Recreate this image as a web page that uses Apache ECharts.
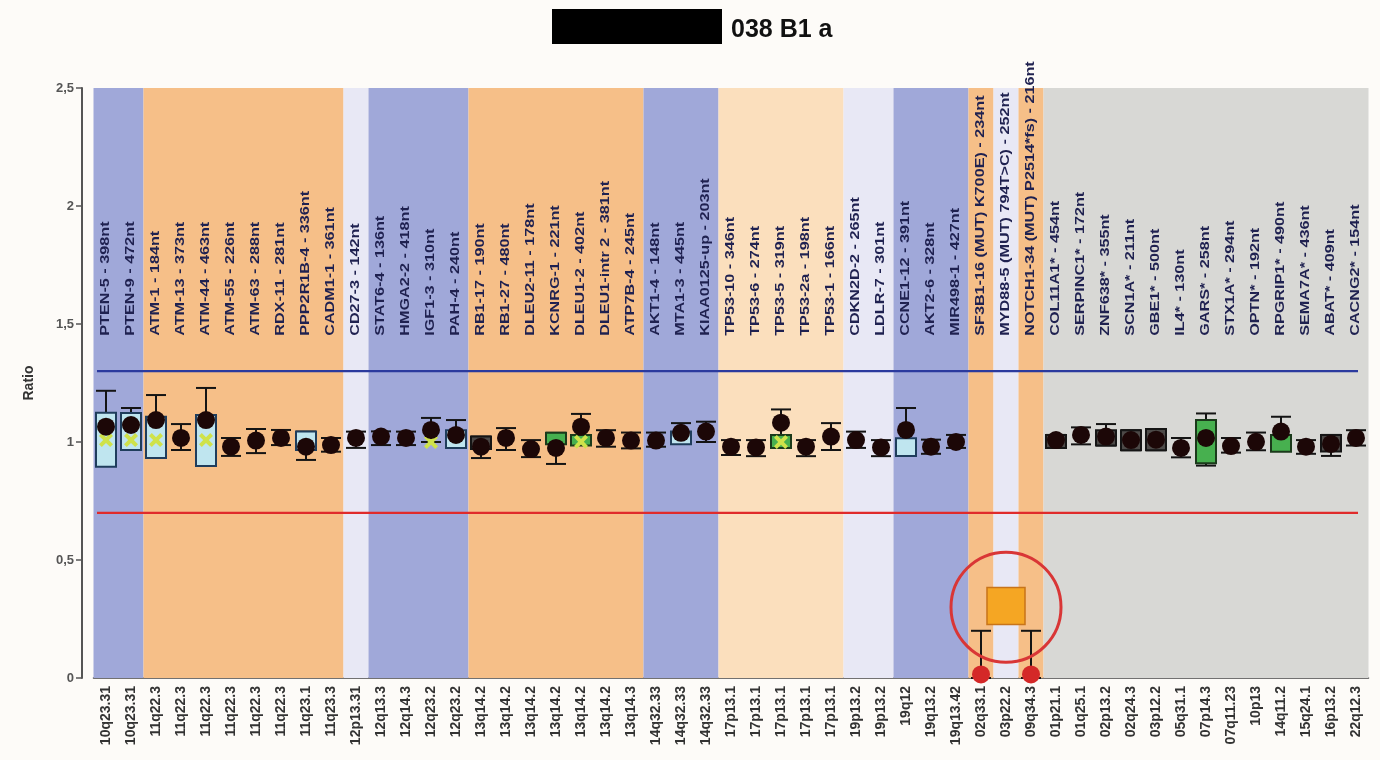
<!DOCTYPE html>
<html><head><meta charset="utf-8">
<script src="https://cdn.jsdelivr.net/npm/echarts@6/dist/echarts.min.js"></script>
<style>html,body{margin:0;padding:0;background:#fdfbf8}#c{width:1380px;height:760px}</style>
</head><body><div id="c"></div>
<script>
// ---- categories (chromosomal loci) ----
const loci = ['10q23.31','10q23.31','11q22.3','11q22.3','11q22.3','11q22.3','11q22.3','11q22.3','11q23.1','11q23.3',
  '12p13.31','12q13.3','12q14.3','12q23.2','12q23.2','13q14.2','13q14.2','13q14.2','13q14.2','13q14.2',
  '13q14.2','13q14.3','14q32.33','14q32.33','14q32.33','17p13.1','17p13.1','17p13.1','17p13.1','17p13.1',
  '19p13.2','19p13.2','19q12','19q13.2','19q13.42','02q33.1','03p22.2','09q34.3','01p21.1','01q25.1',
  '02p13.2','02q24.3','03p12.2','05q31.1','07p14.3','07q11.23','10p13','14q11.2','15q24.1','16p13.2','22q12.3'];
// ---- probe names ----
const probes = ['PTEN-5 - 398nt','PTEN-9 - 472nt','ATM-1 - 184nt','ATM-13 - 373nt','ATM-44 - 463nt','ATM-55 - 226nt',
  'ATM-63 - 288nt','RDX-11 - 281nt','PPP2R1B-4 - 336nt','CADM1-1 - 361nt','CD27-3 - 142nt','STAT6-4 - 136nt',
  'HMGA2-2 - 418nt','IGF1-3 - 310nt','PAH-4 - 240nt','RB1-17 - 190nt','RB1-27 - 480nt','DLEU2-11 - 178nt',
  'KCNRG-1 - 221nt','DLEU1-2 - 402nt','DLEU1-intr 2 - 381nt','ATP7B-4 - 245nt','AKT1-4 - 148nt','MTA1-3 - 445nt',
  'KIAA0125-up - 203nt','TP53-10 - 346nt','TP53-6 - 274nt','TP53-5 - 319nt','TP53-2a - 198nt','TP53-1 - 166nt',
  'CDKN2D-2 - 265nt','LDLR-7 - 301nt','CCNE1-12 - 391nt','AKT2-6 - 328nt','MIR498-1 - 427nt',
  'SF3B1-16 (MUT) K700E) - 234nt','MYD88-5 (MUT) 794T>C) - 252nt','NOTCH1-34 (MUT) P2514*fs) - 216nt',
  'COL11A1* - 454nt','SERPINC1* - 172nt','ZNF638* - 355nt','SCN1A* - 211nt','GBE1* - 500nt','IL4* - 130nt',
  'GARS* - 258nt','STX1A* - 294nt','OPTN* - 192nt','RPGRIP1* - 490nt','SEMA7A* - 436nt','ABAT* - 409nt','CACNG2* - 154nt'];
// ---- background bands (category index ranges) ----
const bandStart = [0, 2, 10, 11, 15, 22, 25, 30, 32, 35, 36, 37, 38];
const bandEnd   = [1, 9, 10, 14, 21, 24, 29, 31, 34, 35, 36, 37, 50];
const bandKind  = ['blue','orange','lavender','blue','orange','blue','peach','lavender','blue','orange','lavender','orange','gray'];
// ---- sample ratio (dots) ----
const ratio = [1.065,1.072,1.093,1.017,1.093,0.980,1.006,1.017,0.980,0.987,
  1.017,1.023,1.017,1.051,1.030,0.980,1.017,0.970,0.975,1.065,
  1.017,1.006,1.006,1.039,1.044,0.980,0.977,1.082,0.980,1.023,
  1.008,0.977,1.051,0.980,1.000,null,null,null,1.008,1.030,
  1.023,1.008,1.010,0.975,1.017,0.983,1.001,1.044,0.980,0.992,1.017];
// ---- error bars ----
const errLow = [0.92,0.97,0.95,0.966,0.92,0.941,0.953,0.987,0.924,0.959,
  0.975,0.987,0.987,1.0,0.98,0.932,0.966,0.936,0.907,1.0,
  0.98,0.973,0.98,1.0,1.0,0.945,0.94,0.99,0.94,0.966,
  0.975,0.94,0.941,0.95,0.975,0,null,0,0.975,0.99,
  0.985,0.965,0.965,0.935,0.9,0.955,0.965,1.0,0.95,0.941,0.985];
const errHigh = [1.217,1.144,1.199,1.076,1.229,1.017,1.055,1.051,1.044,1.017,
  1.044,1.045,1.044,1.102,1.093,1.023,1.059,1.008,1.039,1.119,
  1.05,1.04,1.04,1.08,1.086,1.008,1.008,1.138,1.008,1.08,
  1.044,1.008,1.144,1.01,1.03,0.2,null,0.2,1.03,1.062,
  1.076,1.05,1.055,1.017,1.121,1.017,1.04,1.107,1.008,1.03,1.05];
// ---- boxes ----
const boxLow  = [0.895,0.966,0.932,null,0.898,null,null,null,0.966,null,
  null,null,null,null,0.975,0.97,null,null,0.99,0.985,
  null,null,null,0.99,null,null,null,0.975,null,null,
  null,null,0.941,null,null,null,null,null,0.975,null,
  0.985,0.965,0.965,null,0.91,null,null,0.959,null,0.96,null];
const boxHigh = [1.124,1.123,1.107,null,1.114,null,null,null,1.044,null,
  null,null,null,null,1.05,1.023,null,null,1.039,1.03,
  null,null,null,1.045,null,null,null,1.03,null,null,
  null,null,1.016,null,null,null,null,null,1.03,null,
  1.05,1.05,1.055,null,1.093,null,null,1.03,null,1.03,null];
const boxKind = ['cyan','cyan','cyan',null,'cyan',null,null,null,'cyan',null,
  null,null,null,null,'cyan','dark',null,null,'green','green',
  null,null,null,'cyan',null,null,null,'green',null,null,
  null,null,'cyan',null,null,null,null,null,'dark',null,
  'dark','dark','dark',null,'green',null,null,'green',null,'dark',null];
// ---- reference markers (x) ----
const refMarker = [1.008,1.008,1.008,null,1.008,null,null,null,null,null,
  null,null,null,1.0,null,null,null,null,null,1.001,
  null,null,null,null,null,null,null,1.0,null,null,
  null,null,null,null,null,null,null,null,null,null,
  null,null,null,null,null,null,null,null,null,null,null];
// ---- mutation probes ----
const mutationRatio = [[35, 0.015], [37, 0.015]];
const mutationFlag = [[36, 0.305]];
const highlight = [[36, 0.30]];
// ---- thresholds & axis ----
const thresholds = [1.3, 0.7];
const yTicks = [0, 0.5, 1, 1.5, 2, 2.5];
const labelBase = 1.45;

const bandColors = {blue:'#a0a8d9', orange:'#f6bf88', lavender:'#e8e8f5', peach:'#fbdfbd', gray:'#d8d8d5'};
const boxStyles = {cyan:{fill:'#bfe5ef', stroke:'#1f3d5c'}, green:{fill:'#47b04f', stroke:'#1b3a1b'}, dark:{fill:'#4d4a48', stroke:'#151515'}};
const threshColors = ['#2b3a9e', '#e02b2b'];

const chart = echarts.init(document.getElementById('c'));
const n = loci.length;

const bandData = bandStart.map((s, i) => [s, bandEnd[i], yTicks[yTicks.length-1], yTicks[0]]);
const whiskerData = [];
for (let i = 0; i < n; i++) if (errLow[i] != null) whiskerData.push([i, errLow[i], errHigh[i]]);
const boxData = [];
for (let i = 0; i < n; i++) if (boxLow[i] != null) boxData.push([i, boxLow[i], boxHigh[i], boxKind[i]]);
const dotData = [];
for (let i = 0; i < n; i++) if (ratio[i] != null) dotData.push([i, ratio[i]]);
const refData = [];
for (let i = 0; i < n; i++) if (refMarker[i] != null) refData.push([i, refMarker[i]]);
const labelData = probes.map((p, i) => [i, labelBase]);
const threshData = thresholds.map((t, i) => [0, n - 1, t, i]);

const option = {
  backgroundColor: '#fdfbf8',
  animation: false,
  title: {text: '038 B1 a', left: 726, top: 13, textStyle: {fontSize: 25, fontWeight: 'bold', color: '#111', fontFamily: 'Liberation Sans, Arial'}},
  graphic: [{type: 'rect', shape: {x: 552, y: 9, width: 170, height: 35}, style: {fill: '#000'}}],
  grid: {left: 93.5, right: 11.5, top: 88, bottom: 82},
  xAxis: {
    type: 'category', data: loci,
    axisLine: {lineStyle: {color: '#444', width: 1.5}},
    axisTick: {alignWithLabel: true, length: 5, lineStyle: {color: '#333'}},
    axisLabel: {rotate: 90, interval: 0, fontSize: 14, fontWeight: 'bold', color: '#333', margin: 8, fontFamily: 'Liberation Sans, Arial'}
  },
  yAxis: {
    type: 'value', min: 0, max: 2.5, interval: 0.5, offset: 11.5,
    name: 'Ratio', nameLocation: 'middle', nameGap: 46,
    nameTextStyle: {fontSize: 14, fontWeight: 'bold', color: '#333', fontFamily: 'Liberation Sans, Arial'},
    axisLine: {show: true, lineStyle: {color: '#555', width: 2}},
    axisTick: {show: true, length: 6, lineStyle: {color: '#555', width: 1.5}},
    splitLine: {show: false},
    axisLabel: {fontSize: 13, fontWeight: 'bold', color: '#555', margin: 8, fontFamily: 'Liberation Sans, Arial',
      formatter: v => String(v).replace('.', ',')}
  },
  series: [
    { // bands
      type: 'custom', z: 1, data: bandData, encode: {x: [0, 1], y: [2, 3]}, silent: true,
      renderItem: (params, api) => {
        const w = api.size([1, 0])[0];
        const p0 = api.coord([api.value(0), api.value(2)]);
        const p1 = api.coord([api.value(1), api.value(3)]);
        return {type: 'rect', shape: {x: p0[0] - w / 2, y: p0[1], width: p1[0] - p0[0] + w, height: p1[1] - p0[1]},
          style: {fill: bandColors[bandKind[params.dataIndex]]}};
      }
    },
    { // probe labels
      type: 'custom', z: 2, data: labelData, encode: {x: 0, y: 1}, silent: true, clip: false,
      renderItem: (params, api) => {
        const p = api.coord([api.value(0), api.value(1)]);
        return {type: 'text', x: p[0], y: p[1], rotation: Math.PI / 2, scaleX: 1.35,
          style: {text: probes[params.dataIndex], align: 'left', verticalAlign: 'middle',
            font: 'bold 12px "Liberation Sans", Arial', fill: '#1f2150'}};
      }
    },
    { // thresholds
      type: 'custom', z: 3, data: threshData, encode: {x: [0, 1], y: 2}, silent: true,
      renderItem: (params, api) => {
        const w = api.size([1, 0])[0];
        const a = api.coord([api.value(0), api.value(2)]);
        const b = api.coord([api.value(1), api.value(2)]);
        return {type: 'line', shape: {x1: a[0] - 0.36 * w, y1: a[1], x2: b[0] + 0.08 * w, y2: b[1]},
          style: {stroke: threshColors[api.value(3)], lineWidth: 2.2}};
      }
    },
    { // whiskers
      type: 'custom', z: 4, data: whiskerData, encode: {x: 0, y: [1, 2]}, silent: true,
      renderItem: (params, api) => {
        const lo = api.coord([api.value(0), api.value(1)]);
        const hi = api.coord([api.value(0), api.value(2)]);
        const c = 10;
        const st = {stroke: '#141414', lineWidth: 2};
        return {type: 'group', children: [
          {type: 'line', shape: {x1: lo[0], y1: lo[1], x2: hi[0], y2: hi[1]}, style: st},
          {type: 'line', shape: {x1: hi[0] - c, y1: hi[1], x2: hi[0] + c, y2: hi[1]}, style: st},
          {type: 'line', shape: {x1: lo[0] - c, y1: lo[1], x2: lo[0] + c, y2: lo[1]}, style: st}
        ]};
      }
    },
    { // boxes
      type: 'custom', z: 5, data: boxData, encode: {x: 0, y: [1, 2]}, silent: true,
      renderItem: (params, api) => {
        const lo = api.coord([api.value(0), api.value(1)]);
        const hi = api.coord([api.value(0), api.value(2)]);
        const bs = boxStyles[boxData[params.dataIndex][3]];
        const hw = 10;
        return {type: 'rect', shape: {x: lo[0] - hw, y: hi[1], width: hw * 2, height: lo[1] - hi[1]},
          style: {fill: bs.fill, stroke: bs.stroke, lineWidth: 2}};
      }
    },
    { // reference markers
      type: 'scatter', z: 6, data: refData, silent: true,
      symbol: 'path://M0,2 L2,0 L5,3 L8,0 L10,2 L7,5 L10,8 L8,10 L5,7 L2,10 L0,8 L3,5 Z',
      symbolSize: 14, itemStyle: {color: '#cfe24a', opacity: 1}
    },
    { // sample dots
      type: 'scatter', z: 7, data: dotData, silent: true, symbol: 'circle', symbolSize: 18,
      itemStyle: {color: '#1c0707', opacity: 1}
    },
    { // mutation result dots
      type: 'scatter', z: 7, data: mutationRatio, silent: true, symbol: 'circle', symbolSize: 18, clip: false,
      itemStyle: {color: '#d42828', opacity: 1}
    },
    { // flagged mutation square
      type: 'scatter', z: 7, data: mutationFlag, silent: true, symbol: 'rect', symbolSize: [38, 37],
      itemStyle: {color: '#f5a623', borderColor: '#c8741a', borderWidth: 1.5, opacity: 1}
    },
    { // highlight circle
      type: 'scatter', z: 8, data: highlight, silent: true, symbol: 'circle', symbolSize: 110,
      itemStyle: {color: 'rgba(0,0,0,0)', borderColor: '#d93636', borderWidth: 3, opacity: 1}
    }
  ]
};
chart.setOption(option);
</script></body></html>
